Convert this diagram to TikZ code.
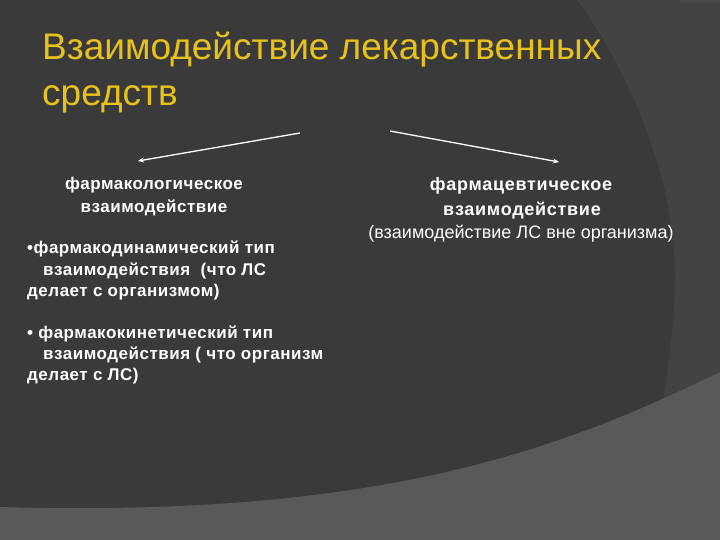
\documentclass[tikz,border=0pt]{standalone}
\usepackage{fontspec}
\setmainfont{Liberation Sans}
\newfontfamily\spacedfont[LetterSpace=3]{Liberation Sans}
\newfontfamily\headfont[LetterSpace=4]{Liberation Sans}
\usetikzlibrary{arrows.meta}
\definecolor{bgmain}{HTML}{3A3A3A}
\definecolor{bgband}{HTML}{434343}
\definecolor{bgtop}{HTML}{4A4A4A}
\definecolor{bgbottom}{HTML}{595959}
\definecolor{titlegold}{HTML}{E8C21A}
\tikzset{
  titletext/.style={anchor=base west, inner sep=0pt, text=titlegold, font=\fontsize{37}{37}\selectfont},
  bodybold/.style={anchor=base west, inner sep=0pt, text=white, font=\spacedfont\fontsize{17}{20}\selectfont\bfseries},
  headbold/.style={anchor=base, inner sep=0pt, text=white, font=\spacedfont\fontsize{17}{20}\selectfont\bfseries},
  headbig/.style={anchor=base, inner sep=0pt, text=white, font=\headfont\fontsize{18}{20}\selectfont\bfseries},
  bodyreg/.style={anchor=base, inner sep=0pt, text=white, font=\fontsize{18}{20}\selectfont},
  linkarrow/.style={draw=white, line width=1.3pt, -{Stealth[length=6pt,width=5pt]}}
}
\begin{document}
\begin{tikzpicture}[x=1pt,y=-1pt]
\useasboundingbox (0,0) rectangle (720,540);
% background layers
\fill[bgmain] (0,0) rectangle (720,540);
\fill[bgband] (577,0) .. controls (635,80) and (678,190) .. (675,285)
  .. controls (673,340) and (667,375) .. (662,410) -- (720,410) -- (720,0) -- cycle;
\fill[bgtop] (680,0) rectangle (720,3);
\fill[bgbottom] (0,507) .. controls (380,518) and (560,450) .. (720,372) -- (720,540) -- (0,540) -- cycle;
% title
\node[titletext] (t1) at (42,60) {Взаимодействие лекарственных};
\node[titletext] (t2) at (42,106) {средств};
% arrow coordinates
\coordinate (la) at (300,133);
\coordinate (lb) at (138,161);
\coordinate (ra) at (390,131);
\coordinate (rb) at (559,162);
\draw[linkarrow] (la) -- (lb);
\draw[linkarrow] (ra) -- (rb);
% left column
\node[headbold] (lh1) at (154,190) {фармакологическое};
\node[headbold] (lh2) at (154,212) {взаимодействие};
\node[bodybold] (l1) at (27,253) {•фармакодинамический тип};
\node[bodybold] (l2) at (43,275) {взаимодействия\ \ (что ЛС};
\node[bodybold] (l3) at (27,296) {делает с организмом)};
\node[bodybold] (l4) at (27,338) {• фармакокинетический тип};
\node[bodybold] (l5) at (43,359) {взаимодействия ( что организм};
\node[bodybold] (l6) at (27,380) {делает с ЛС)};
% right column
\node[headbig] (rh1) at (521,191) {фармацевтическое};
\node[headbig] (rh2) at (522,215) {взаимодействие};
\node[bodyreg] (rh3) at (521,238) {(взаимодействие ЛС вне организма)};
\end{tikzpicture}
\end{document}
